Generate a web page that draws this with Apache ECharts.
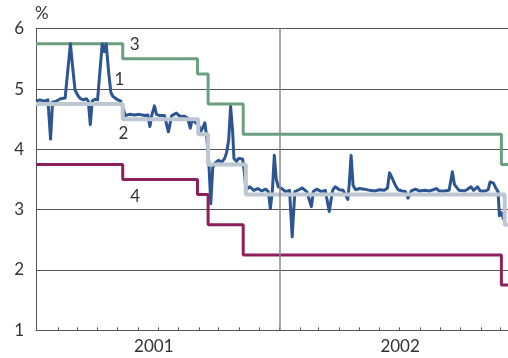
<!DOCTYPE html>
<html>
<head>
<meta charset="utf-8">
<script src="https://cdn.jsdelivr.net/npm/echarts@6/dist/echarts.min.js"></script>
<style>html,body{margin:0;padding:0;background:#fff}#c{width:508px;height:358px}</style>
</head>
<body>
<div id="c"></div>
<script>
// ---- Data ----
// Series 1: overnight rate (blue)
const rate1Dates = [
  '2000-12-29','2001-01-04','2001-01-10','2001-01-16','2001-01-20','2001-01-23','2001-01-29','2001-02-04','2001-02-11','2001-02-15',
  '2001-02-19','2001-02-22','2001-02-26','2001-03-03','2001-03-06','2001-03-11','2001-03-15','2001-03-18','2001-03-21','2001-03-24',
  '2001-03-28','2001-04-01','2001-04-04','2001-04-08','2001-04-11','2001-04-14','2001-04-18','2001-04-21','2001-04-24','2001-04-27',
  '2001-04-30','2001-05-03','2001-05-06','2001-05-09','2001-05-13','2001-05-19','2001-05-27','2001-06-03','2001-06-11','2001-06-16',
  '2001-06-19','2001-06-22','2001-06-24','2001-06-26','2001-06-29','2001-07-04','2001-07-11','2001-07-13','2001-07-17','2001-07-22',
  '2001-07-29','2001-08-03','2001-08-10','2001-08-15','2001-08-19','2001-08-22','2001-08-27','2001-08-31','2001-09-04','2001-09-07',
  '2001-09-10','2001-09-13','2001-09-16','2001-09-19','2001-09-22','2001-09-26','2001-10-01','2001-10-05','2001-10-10','2001-10-13',
  '2001-10-16','2001-10-19','2001-10-22','2001-10-24','2001-10-28','2001-10-31','2001-11-03','2001-11-06','2001-11-09','2001-11-11',
  '2001-11-17','2001-11-23','2001-11-29','2001-12-05','2001-12-11','2001-12-15','2001-12-18','2001-12-21','2001-12-24','2001-12-27',
  '2001-12-30','2002-01-04','2002-01-10','2002-01-16','2002-01-20','2002-01-24','2002-01-30','2002-02-04','2002-02-11','2002-02-18',
  '2002-02-21','2002-02-26','2002-03-05','2002-03-11','2002-03-17','2002-03-22','2002-03-26','2002-04-01','2002-04-07','2002-04-14',
  '2002-04-16','2002-04-19','2002-04-22','2002-04-26','2002-05-02','2002-05-09','2002-05-17','2002-05-24','2002-06-01','2002-06-08',
  '2002-06-13','2002-06-16','2002-06-18','2002-06-21','2002-06-25','2002-06-29','2002-07-05','2002-07-10','2002-07-14','2002-07-19',
  '2002-07-25','2002-07-31','2002-08-08','2002-08-15','2002-08-21','2002-08-26','2002-08-30','2002-09-07','2002-09-14','2002-09-19',
  '2002-09-22','2002-09-25','2002-09-29','2002-10-07','2002-10-11','2002-10-17','2002-10-21','2002-10-27','2002-10-31','2002-11-08',
  '2002-11-12','2002-11-15','2002-11-17','2002-11-20','2002-11-24','2002-11-27','2002-11-29','2002-12-02','2002-12-05','2002-12-08'
];
const rate1Values = [
  4.80,4.82,4.80,4.82,4.17,4.78,4.80,4.84,4.85,5.30,
  5.75,5.40,4.98,4.88,4.84,4.82,4.84,4.80,4.41,4.80,
  4.83,4.82,4.85,5.75,5.62,5.75,5.25,4.95,4.88,4.90,
  4.83,4.85,4.80,4.78,4.56,4.58,4.57,4.58,4.56,4.57,
  4.38,4.57,4.60,4.72,4.58,4.56,4.56,4.56,4.29,4.56,
  4.60,4.55,4.55,4.52,4.35,4.50,4.44,4.42,4.30,4.36,
  4.44,4.20,3.80,3.10,3.70,3.78,3.82,3.78,3.85,3.95,
  4.15,4.71,4.30,3.85,3.80,3.85,3.82,3.84,3.60,3.33,
  3.38,3.32,3.35,3.31,3.34,3.30,3.02,3.30,3.90,3.50,
  3.38,3.35,3.30,3.32,2.55,3.30,3.33,3.36,3.30,3.05,
  3.30,3.34,3.30,3.32,2.97,3.32,3.38,3.33,3.32,3.17,
  3.40,3.90,3.40,3.33,3.35,3.34,3.32,3.31,3.33,3.32,
  3.36,3.61,3.57,3.50,3.40,3.33,3.31,3.30,3.19,3.31,
  3.34,3.31,3.32,3.31,3.33,3.35,3.31,3.31,3.32,3.63,
  3.42,3.44,3.32,3.31,3.33,3.38,3.32,3.38,3.31,3.31,
  3.33,3.46,3.49,3.44,3.35,3.30,2.90,2.95,2.85,2.90
];
// Series 2: main rate (light grey), step changes
const rate2Dates  = ['2000-12-29','2001-05-09','2001-08-31','2001-09-15','2001-11-11','2002-12-07','2002-12-12'];
const rate2Values = [4.75, 4.50, 4.25, 3.75, 3.25, 2.75, 2.75];
// Series 3: upper rate (green)
const rate3Dates  = ['2000-12-29','2001-05-09','2001-08-30','2001-09-15','2001-11-07','2002-12-02','2002-12-12'];
const rate3Values = [5.75, 5.50, 5.25, 4.75, 4.25, 3.75, 3.75];
// Series 4: lower rate (maroon)
const rate4Dates  = ['2000-12-29','2001-05-09','2001-08-30','2001-09-15','2001-11-07','2002-12-02','2002-12-12'];
const rate4Values = [3.75, 3.50, 3.25, 2.75, 2.25, 1.75, 1.75];
// Axis
const xMin = '2000-12-29', xMax = '2002-12-12';
const yearLabels = ['2001', '2002'];
const yearLabelDates = ['2001-06-25', '2002-07-02'];
const yearBoundary = '2002-01-01';
const yTicks = [1, 6, 1]; // min, max, interval
// Series labels
const seriesNames = ['1', '2', '3', '4'];
const seriesLabelAt = [['2001-05-04', 5.15], ['2001-05-10', 4.27], ['2001-05-27', 5.73], ['2001-05-28', 3.22]];

// ---- Build ----
const P = s => echarts.number.parseDate(s).getTime();
const zip = (d, v) => d.map((x, i) => [P(x), v[i]]);
const monthTicks = [];
for (let y = 2001; y <= 2002; y++) for (let m = 1; m <= 12; m++) {
  if (y === 2001 && m === 1) continue;
  monthTicks.push(P(y + '-' + String(m).padStart(2, '0') + '-01'));
}
const labelVals = yearLabelDates.map(P);
const FONT = 'Lato, "Open Sans", sans-serif';
const labelPoint = (i) => ({
  data: [{ coord: [P(seriesLabelAt[i][0]), seriesLabelAt[i][1]], value: seriesNames[i] }],
  symbol: 'circle', symbolSize: 1, silent: true,
  itemStyle: { color: 'rgba(0,0,0,0)' },
  label: { show: true, formatter: seriesNames[i], color: '#333', fontSize: 17, fontFamily: FONT, position: 'inside' }
});

const chart = echarts.init(document.getElementById('c'), null, { renderer: 'canvas' });
chart.setOption({
  animation: false,
  backgroundColor: '#fff',
  grid: { left: 36, right: 0, top: 28.7, bottom: 27.7, containLabel: false },
  xAxis: {
    type: 'value', min: P(xMin), max: P(xMax),
    axisLine: { show: true, onZero: false, lineStyle: { color: '#555', width: 1 } },
    axisTick: { show: true, inside: true, length: 3, lineStyle: { color: '#555' }, customValues: monthTicks },
    axisLabel: { show: true, customValues: labelVals,
      formatter: v => { const i = labelVals.indexOf(v); return i >= 0 ? yearLabels[i] : ''; },
      color: '#333', fontSize: 17, fontFamily: FONT, margin: 8 },
    splitLine: { show: false }
  },
  yAxis: {
    type: 'value', min: yTicks[0], max: yTicks[1], interval: yTicks[2],
    name: '%', nameLocation: 'end', nameGap: 7,
    nameTextStyle: { color: '#333', fontSize: 17, fontFamily: FONT, align: 'left', padding: [0, 0, 0, -1] },
    axisLine: { show: true, lineStyle: { color: '#555', width: 1 } },
    axisTick: { show: false },
    axisLabel: { color: '#333', fontSize: 17, fontFamily: FONT, margin: 12 },
    splitLine: { show: true, lineStyle: { color: '#555', width: 1 } }
  },
  series: [
    { name: '3', type: 'line', step: 'end', symbol: 'none', data: zip(rate3Dates, rate3Values),
      lineStyle: { color: '#6a9f80', width: 3 }, markPoint: labelPoint(2) },
    { name: '4', type: 'line', step: 'end', symbol: 'none', data: zip(rate4Dates, rate4Values),
      lineStyle: { color: '#8c2059', width: 3 }, markPoint: labelPoint(3) },
    { name: '1', type: 'line', symbol: 'none', data: zip(rate1Dates, rate1Values),
      lineStyle: { color: '#2d5591', width: 3, join: 'round' }, markPoint: labelPoint(0),
      markLine: { silent: true, symbol: 'none', label: { show: false },
        lineStyle: { color: '#888', width: 1.5, type: 'solid' }, data: [{ xAxis: P(yearBoundary) }] } },
    { name: '2', type: 'line', step: 'end', symbol: 'none', data: zip(rate2Dates, rate2Values),
      lineStyle: { color: '#bdc7d2', width: 4 }, markPoint: labelPoint(1) }
  ]
});
</script>
</body>
</html>
